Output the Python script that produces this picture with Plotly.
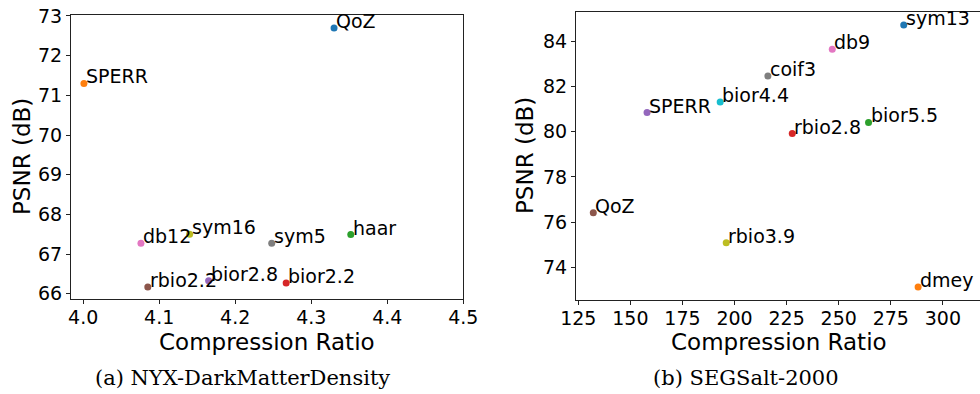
import plotly.graph_objects as go

# Panel (a) NYX-DarkMatterDensity
a_names = ["QoZ", "SPERR", "haar", "bior2.2", "bior2.8", "rbio2.2", "db12", "sym5", "sym16"]
a_cr = [4.330, 4.001, 4.352, 4.267, 4.165, 4.085, 4.076, 4.248, 4.140]
a_psnr = [72.70, 71.30, 67.49, 66.27, 66.33, 66.17, 67.27, 67.27, 67.50]
a_colors = ["#1f77b4", "#ff7f0e", "#2ca02c", "#d62728", "#9467bd", "#8c564b", "#e377c2", "#7f7f7f", "#bcbd22"]

# Panel (b) SEGSalt-2000
b_names = ["sym13", "dmey", "bior5.5", "rbio2.8", "SPERR", "QoZ", "db9", "coif3", "rbio3.9", "bior4.4"]
b_cr = [281.2, 288.1, 264.3, 227.7, 158.0, 132.2, 246.9, 216.0, 196.0, 193.1]
b_psnr = [84.72, 73.13, 80.41, 79.92, 80.85, 76.41, 83.65, 82.47, 75.08, 81.32]
b_colors = ["#1f77b4", "#ff7f0e", "#2ca02c", "#d62728", "#9467bd", "#8c564b", "#e377c2", "#7f7f7f", "#bcbd22", "#17becf"]

a_xticks = [4.0, 4.1, 4.2, 4.3, 4.4, 4.5]
a_yticks = [66, 67, 68, 69, 70, 71, 72, 73]
b_xticks = [125, 150, 175, 200, 225, 250, 275, 300]
b_yticks = [74, 76, 78, 80, 82, 84]

x_title = "Compression Ratio"
y_title = "PSNR (dB)"
captions = ["(a) NYX-DarkMatterDensity", "(b) SEGSalt-2000"]

SANS = "DejaVu Sans"
SERIF = "DejaVu Serif"

fig = go.Figure()
fig.add_trace(go.Scatter(x=a_cr, y=a_psnr, mode="markers",
                         marker=dict(color=a_colors, size=7), xaxis="x", yaxis="y",
                         showlegend=False, hoverinfo="skip"))
fig.add_trace(go.Scatter(x=b_cr, y=b_psnr, mode="markers",
                         marker=dict(color=b_colors, size=7), xaxis="x2", yaxis="y2",
                         showlegend=False, hoverinfo="skip"))

annotations = []
for xs, ys, names, xr, yr in [(a_cr, a_psnr, a_names, "x", "y"), (b_cr, b_psnr, b_names, "x2", "y2")]:
    for x, y, n in zip(xs, ys, names):
        annotations.append(dict(x=x, y=y, xref=xr, yref=yr, text=n, showarrow=False,
                                xanchor="left", yanchor="bottom", xshift=0, yshift=-6,
                                font=dict(family=SANS, size=19, color="black")))

# axis titles and captions
annotations += [
    dict(x=267 / 980, y=1 - 342 / 394, xref="paper", yref="paper", text=x_title, showarrow=False,
         xanchor="center", yanchor="middle", font=dict(family=SANS, size=23, color="black")),
    dict(x=779 / 980, y=1 - 342 / 394, xref="paper", yref="paper", text=x_title, showarrow=False,
         xanchor="center", yanchor="middle", font=dict(family=SANS, size=23, color="black")),
    dict(x=22 / 980, y=1 - 157 / 394, xref="paper", yref="paper", text=y_title, showarrow=False,
         textangle=-90, xanchor="center", yanchor="middle", font=dict(family=SANS, size=23, color="black")),
    dict(x=525 / 980, y=1 - 156 / 394, xref="paper", yref="paper", text=y_title, showarrow=False,
         textangle=-90, xanchor="center", yanchor="middle", font=dict(family=SANS, size=23, color="black")),
    dict(x=242 / 980, y=1 - 378 / 394, xref="paper", yref="paper", text=captions[0], showarrow=False,
         xanchor="center", yanchor="middle", font=dict(family=SERIF, size=21, color="black")),
    dict(x=746 / 980, y=1 - 378 / 394, xref="paper", yref="paper", text=captions[1], showarrow=False,
         xanchor="center", yanchor="middle", font=dict(family=SERIF, size=21, color="black")),
]

axis_common = dict(showgrid=False, zeroline=False, showline=True, linecolor="#222", linewidth=1,
                   ticks="outside", ticklen=4, tickwidth=1, tickcolor="#222", automargin=False,
                   tickfont=dict(family=SANS, size=19, color="black"))

fig.update_layout(
    template="none",
    width=980, height=394, margin=dict(l=0, r=0, t=0, b=0, pad=0), autosize=False,
    plot_bgcolor="white", paper_bgcolor="white",
    xaxis=dict(domain=[71 / 980, 463.3 / 980], range=[3.984, 4.5], tickvals=a_xticks,
               ticktext=[f"{v:.1f}" for v in a_xticks], mirror=True, anchor="y",
               ticklabelstandoff=-3, **axis_common),
    yaxis=dict(domain=[94.7 / 394, 379 / 394], range=[65.86, 73.025], tickvals=a_yticks,
               mirror=True, anchor="x", **axis_common),
    xaxis2=dict(domain=[576 / 980, 1.0], range=[123.9, 317.8], tickvals=b_xticks,
                mirror=True, anchor="y2", ticklabelstandoff=-3, **axis_common),
    yaxis2=dict(domain=[94 / 394, 382 / 394], range=[72.55, 85.30], tickvals=b_yticks,
                mirror=False, anchor="x2", **axis_common),
    annotations=annotations,
)

fig.write_html("out.html")
